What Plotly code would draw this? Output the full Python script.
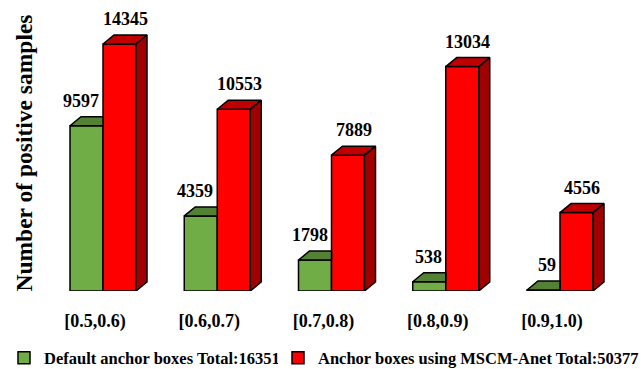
import numpy as np
import plotly.graph_objects as go

categories = ["[0.5,0.6)", "[0.6,0.7)", "[0.7,0.8)", "[0.8,0.9)", "[0.9,1.0)"]
default_vals = [9597, 4359, 1798, 538, 59]
mscm_vals = [14345, 10553, 7889, 13034, 4556]
series_names = ["Default anchor boxes Total:16351", "Anchor boxes using MSCM-Anet Total:50377"]

FONT = "Liberation Serif, Times New Roman, serif"
GREEN, GREEN_TOP = "#70AD47", "#548235"
RED, RED_TOP, RED_SIDE = "#FF0000", "#C00000", "#A00000"

# layout geometry (pixels)
W, H = 644, 369
L, R, T, B = 50, 20, 15, 78
px_per_cat = 114.25
x0 = -(103 - L) / px_per_cat
x1 = x0 + (W - L - R) / px_per_cat
y_px_per_unit = 247 / 14345
y1 = (H - T - B) / y_px_per_unit

bw = 33 / px_per_cat           # bar width in data units
dx = 11 / px_per_cat           # depth offset x
dy = 9 / y_px_per_unit         # depth offset y
lab = 16 / y_px_per_unit       # label gap above top face

xs = np.arange(len(categories))
fig = go.Figure()

fig.add_trace(go.Bar(x=xs, y=default_vals, width=bw, offset=-bw, name=series_names[0],
                     legend="legend",
                     marker=dict(color=GREEN, line=dict(color="black", width=1.5)), hoverinfo="skip"))
fig.add_trace(go.Bar(x=xs, y=mscm_vals, width=bw, offset=0, name=series_names[1],
                     legend="legend2",
                     marker=dict(color=RED, line=dict(color="black", width=1.5)), hoverinfo="skip"))

def poly(px, py, color):
    fig.add_trace(go.Scatter(x=px + [px[0]], y=py + [py[0]], mode="lines", fill="toself",
                             fillcolor=color, line=dict(color="black", width=1.5),
                             showlegend=False, hoverinfo="skip", cliponaxis=False))

for i, (g, r) in enumerate(zip(default_vals, mscm_vals)):
    gl, gr = i - bw, i
    # green top face (visible part, red bar hides the rest)
    poly([gl, gl + dx, gr, gr], [g, g + dy, g + dy, g], GREEN_TOP)
    rl, rr = i, i + bw
    poly([rl, rl + dx, rr + dx, rr], [r, r + dy, r + dy, r], RED_TOP)
    poly([rr, rr, rr + dx, rr + dx], [0, r, r + dy, dy], RED_SIDE)

label_font = dict(family=FONT, size=18, color="black", weight="bold")
for i, (g, r) in enumerate(zip(default_vals, mscm_vals)):
    fig.add_annotation(x=i, y=g + dy + lab, text=str(g), showarrow=False,
                       xanchor="right", yanchor="middle", xshift=-2, font=label_font)
    fig.add_annotation(x=i + bw / 2 + dx / 2, y=r + dy + lab, text=str(r), showarrow=False,
                       xanchor="center", yanchor="middle", font=label_font)

legend_font = dict(family=FONT, size=16.5, color="black", weight="bold")
fig.update_layout(
    width=W, height=H, margin=dict(l=L, r=R, t=T, b=B, autoexpand=False),
    plot_bgcolor="white", paper_bgcolor="white",
    showlegend=True,
    legend=dict(orientation="h", xref="container", yref="container",
                x=4 / W, xanchor="left", y=1 - 358 / H, yanchor="middle",
                font=legend_font, itemclick=False),
    legend2=dict(orientation="h", xref="container", yref="container",
                 x=1.0, xanchor="right", y=1 - 358 / H, yanchor="middle",
                 font=legend_font, itemclick=False),
    font=dict(family=FONT, color="black"),
)
fig.update_xaxes(range=[x0, x1], tickvals=xs - 0.07, ticktext=categories,
                 ticks="outside", ticklen=13, tickcolor="rgba(0,0,0,0)",
                 tickfont=dict(family=FONT, size=18, color="black", weight="bold"),
                 showgrid=False, zeroline=False, showline=False)
fig.update_yaxes(range=[0, y1], showticklabels=False, showgrid=False, zeroline=False, showline=False,
                 title=dict(text="Number of positive samples", standoff=9,
                            font=dict(family=FONT, size=23.5, color="black", weight="bold")))

fig.write_html("out.html")
